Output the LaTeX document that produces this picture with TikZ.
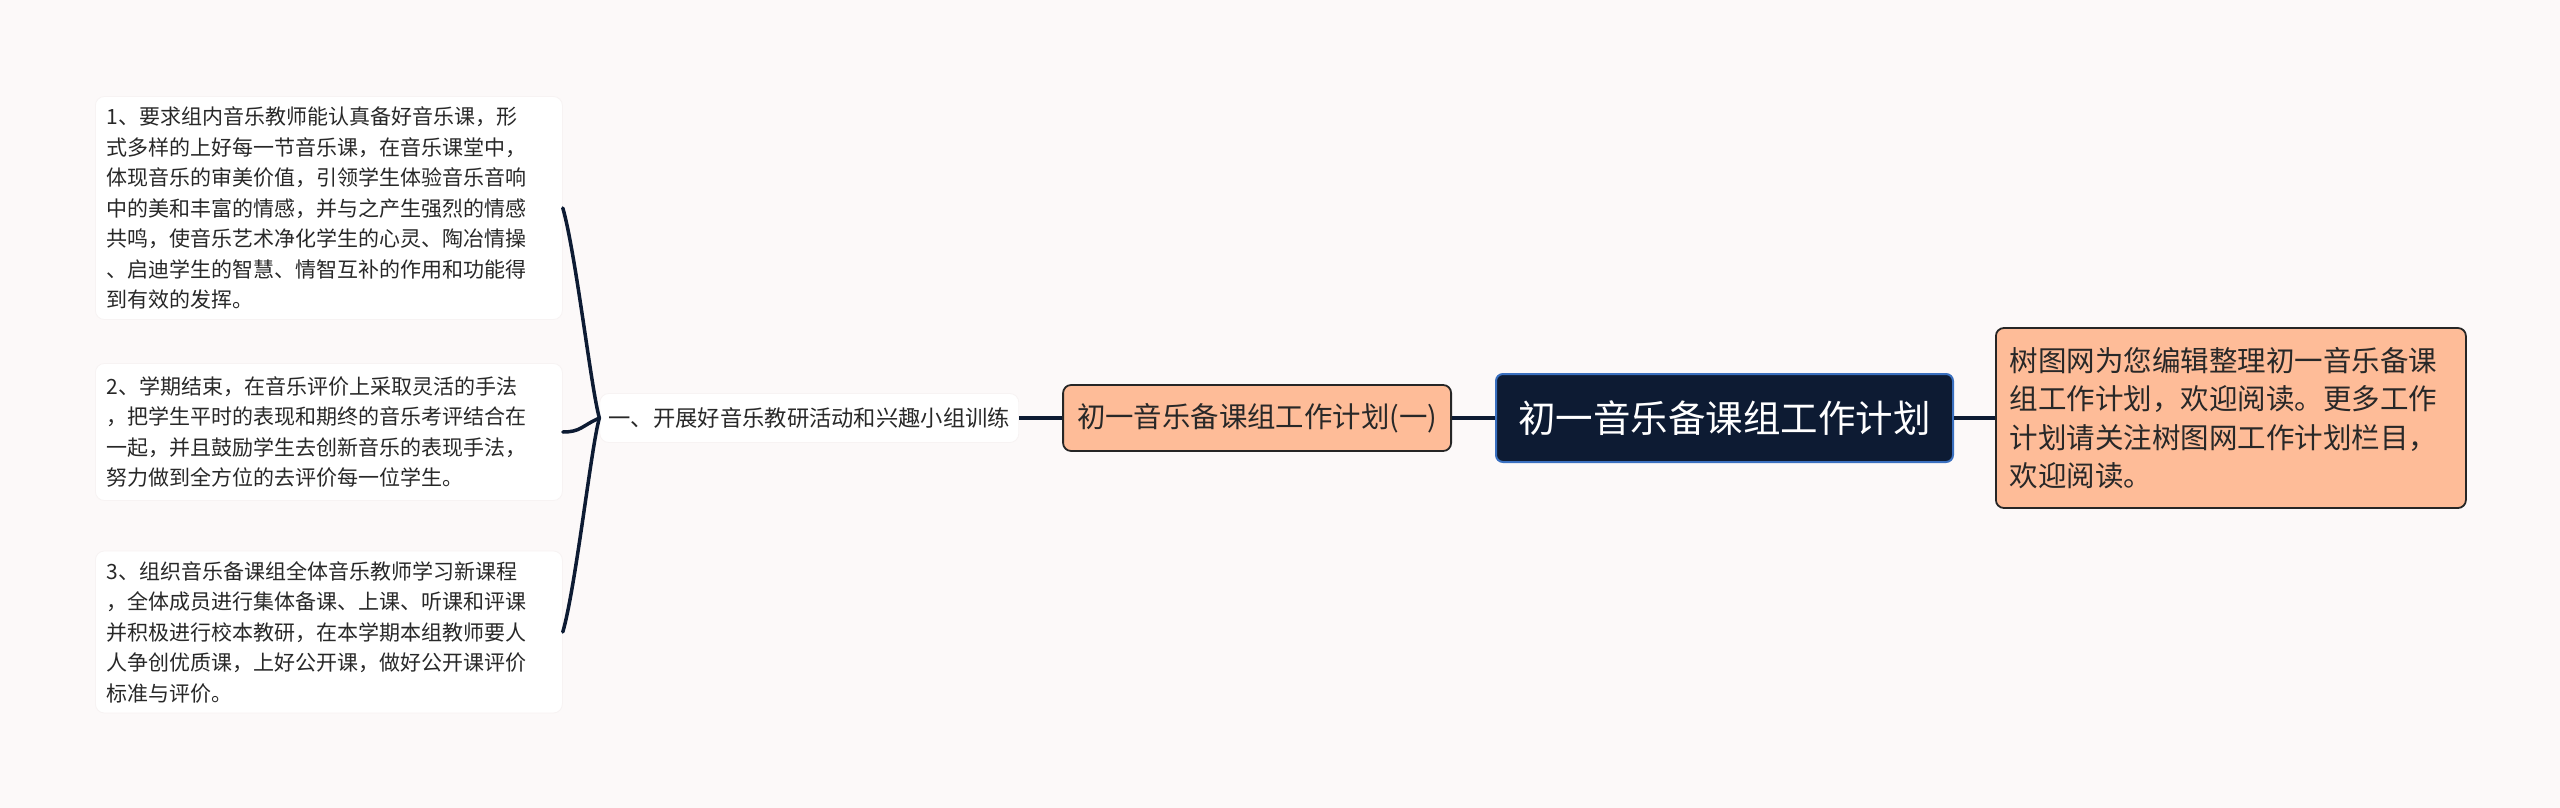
\documentclass[tikz,border=0pt]{standalone}
\usepackage{fontspec}
\newfontfamily\cjkfont{Noto Sans CJK SC}
\usetikzlibrary{shapes,positioning}
\definecolor{bgpaper}{RGB}{252,249,249}
\definecolor{navy}{RGB}{13,27,51}
\definecolor{rootrim}{RGB}{58,112,192}
\definecolor{peach}{RGB}{254,188,152}
\definecolor{leafrim}{RGB}{247,243,243}
\definecolor{inkgray}{RGB}{40,40,40}
\newcommand{\linkw}{3.5pt}
\newcommand{\leafw}{445pt}

\begin{document}
\begin{tikzpicture}[x=1pt,y=-1pt]
  \tikzset{
    rootbox/.style={draw=rootrim, line width=2pt, fill=navy, text=white, rounded corners=7pt,
      minimum width=457pt, minimum height=88pt, inner sep=0pt,
      font=\cjkfont\fontsize{37.5pt}{45pt}\selectfont},
    peachbox/.style={draw=black!85, line width=1.8pt, fill=peach, text=inkgray, rounded corners=8pt},
    leafbox/.style={draw=leafrim, line width=0.8pt, fill=white, text=inkgray, rounded corners=9pt,
      anchor=west, align=left, text width=\leafw, inner xsep=11pt, inner ysep=0pt,
      font=\cjkfont\fontsize{21pt}{30.5pt}\selectfont},
    link/.style={draw=navy, line width=\linkw},
    brace/.style={draw=navy, line width=\linkw, line cap=round}
  }
  \fill[bgpaper] (0,0) rectangle (2560,808);
  \useasboundingbox (0,0) rectangle (2560,808);

  \node[rootbox] (root) at (1724.5,418) {初一音乐备课组工作计划};
  \node[peachbox, right=41pt of root, minimum width=470pt, minimum height=180pt,
    align=left, text width=442pt, inner xsep=14pt, inner ysep=0pt,
    font=\cjkfont\fontsize{28.5pt}{38.5pt}\selectfont] (intro)
    {树图网为您编辑整理初一音乐备课\\组工作计划，欢迎阅读。更多工作\\计划请关注树图网工作计划栏目，\\欢迎阅读。};
  \node[peachbox, left=43pt of root, minimum width=388pt, minimum height=66pt, inner sep=0pt,
    font=\cjkfont\fontsize{28.4pt}{34pt}\selectfont] (plan) {初一音乐备课组工作计划(一)};
  \node[draw=leafrim, line width=0.8pt, fill=white, text=inkgray, rounded corners=9pt,
    left=43pt of plan, minimum width=419pt, minimum height=49pt, inner sep=0pt,
    font=\cjkfont\fontsize{22.3pt}{27pt}\selectfont] (sub) {一、开展好音乐教研活动和兴趣小组训练};

  \node[leafbox, minimum height=223pt] (leafa) at (95,208)
    {1、要求组内音乐教师能认真备好音乐课，形\\式多样的上好每一节音乐课，在音乐课堂中，\\体现音乐的审美价值，引领学生体验音乐音响\\中的美和丰富的情感，并与之产生强烈的情感\\共鸣，使音乐艺术净化学生的心灵、陶冶情操\\、启迪学生的智慧、情智互补的作用和功能得\\到有效的发挥。};
  \node[leafbox, minimum height=137pt] (leafb) at (95,432)
    {2、学期结束，在音乐评价上采取灵活的手法\\，把学生平时的表现和期终的音乐考评结合在\\一起，并且鼓励学生去创新音乐的表现手法，\\努力做到全方位的去评价每一位学生。};
  \node[leafbox, minimum height=162pt] (leafc) at (95,632)
    {3、组织音乐备课组全体音乐教师学习新课程\\，全体成员进行集体备课、上课、听课和评课\\并积极进行校本教研，在本学期本组教师要人\\人争创优质课，上好公开课，做好公开课评价\\标准与评价。};

  \draw[link] (root.east) -- (intro.west);
  \draw[link] (root.west) -- (plan.east);
  \draw[link] (plan.west) -- (sub.east);
  \draw[brace] (leafa.east) .. controls +(13,45) and +(-8,-27) .. (sub.west);
  \draw[brace] (leafb.east) .. controls +(18,0) and +(-18,8) .. (sub.west);
  \draw[brace] (leafc.east) .. controls +(13,-45) and +(-8,27) .. (sub.west);
\end{tikzpicture}
\end{document}
